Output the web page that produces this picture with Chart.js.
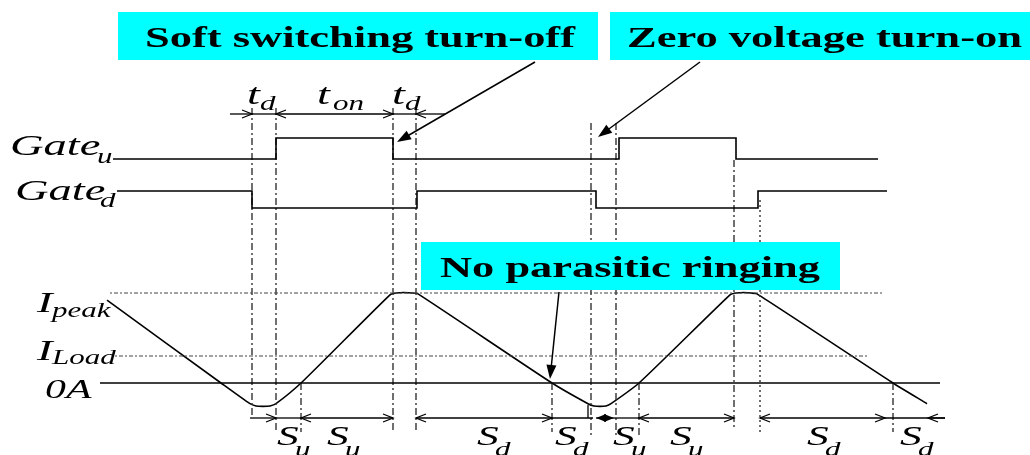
<!DOCTYPE html>
<html>
<head>
<meta charset="utf-8">
<script src="https://cdn.jsdelivr.net/npm/chart.js@4.4.1/dist/chart.umd.min.js"></script>
<style>
  html, body { margin: 0; background: #fff; }
  #wrap { width: 1030px; height: 455px; position: relative; }
</style>
</head>
<body>
<div id="wrap"><canvas id="timing"></canvas></div>
<script>
// --- switching instants and logic states of the two gate signals ---
const gateUEdges = [113, 276, 393, 619, 736, 878];
const gateUStates = [0, 1, 0, 1, 0, 0];
const gateDEdges = [117, 252, 417, 596, 758, 887];
const gateDStates = [1, 0, 1, 0, 1, 1];

// --- inductor current (A) ---
const currentTimes = [107, 221, 250, 256, 263, 270, 276, 301, 390, 396, 404, 412, 418, 552, 588, 594, 600, 606, 611, 639, 730, 736, 744, 751, 757, 893, 927];
const currentAmps = [9.2, 0, -2.3, -2.55, -2.6, -2.55, -2.3, 0, 9.8, 10.0, 10.05, 10.0, 9.9, 0, -2.3, -2.55, -2.6, -2.55, -2.3, 0, 9.8, 10.0, 10.05, 10.0, 9.9, 0, -2.3];

// reference levels: I_peak, I_Load, 0A
const refNames = ['peak', 'Load', '0A'];
const refAmps = [10, 3, 0];
const refStart = [110, 115, 100];
const refEnd = [882, 868, 940];

// dead-time / interval markers
const markerTimes = [252, 276, 393, 416, 301, 552, 591, 616, 639, 734, 760, 893];

// interval labels under the current trace
const intervalNames = ['u', 'u', 'd', 'd', 'u', 'u', 'd', 'd'];
const intervalStarts = [277, 327, 477, 555, 613, 670, 807, 900];

const callouts = ['Soft switching turn-off', 'Zero voltage turn-on', 'No parasitic ringing'];

// rows (y scale, top = 0) used for layout
const gateRows = { u: [159, 138], d: [208, 191] };
const markerTop = [108, 108, 108, 108, 383, 383, 123, 123, 383, 160, 200, 383];
const markerBottom = [418, 432, 432, 432, 432, 432, 437, 437, 437, 428, 432, 432];

const SERIF = '"Liberation Serif", "DejaVu Serif", serif';
const SX = 1.55;

function stepData(edges, states, rows) {
  return edges.map((t, i) => ({ x: t, y: rows[states[i]] }));
}

const datasets = [];
datasets.push({
  data: stepData(gateUEdges, gateUStates, gateRows.u),
  stepped: 'before', yAxisID: 'y', borderColor: '#000', borderWidth: 1.6
});
datasets.push({
  data: stepData(gateDEdges, gateDStates, gateRows.d),
  stepped: 'before', yAxisID: 'y', borderColor: '#000', borderWidth: 1.6
});
refAmps.forEach((a, i) => {
  datasets.push({
    data: [{ x: refStart[i], y: a }, { x: refEnd[i], y: a }],
    yAxisID: 'yI', borderColor: i < 2 ? '#444' : '#000',
    borderWidth: i < 2 ? 1 : 1.5,
    borderDash: i < 2 ? [2, 2, 4, 2] : []
  });
});
markerTimes.forEach((t, i) => {
  datasets.push({
    data: [{ x: t, y: markerTop[i] }, { x: t, y: markerBottom[i] }],
    yAxisID: 'y', borderColor: '#333', borderWidth: 1.4,
    borderDash: i === 10 ? [2, 3] : [7, 3, 2, 3]
  });
});
datasets.push({
  data: currentTimes.map((t, i) => ({ x: t, y: currentAmps[i] })),
  yAxisID: 'yI', borderColor: '#000', borderWidth: 1.6, tension: 0.2
});
datasets.forEach(d => { d.showLine = true; d.pointRadius = 0; d.fill = false; });

function chevron(ctx, x, y, dir, filled) {
  ctx.beginPath();
  ctx.moveTo(x - dir * 10, y - 4);
  ctx.lineTo(x, y);
  ctx.lineTo(x - dir * 10, y + 4);
  if (filled) { ctx.closePath(); ctx.fill(); } else ctx.stroke();
}

function pointer(ctx, x0, y0, x1, y1) {
  const ang = Math.atan2(y1 - y0, x1 - x0);
  ctx.beginPath();
  ctx.moveTo(x0, y0);
  ctx.lineTo(x1 - Math.cos(ang) * 8, y1 - Math.sin(ang) * 8);
  ctx.stroke();
  ctx.beginPath();
  ctx.moveTo(x1, y1);
  ctx.lineTo(x1 - 14 * Math.cos(ang) + 5 * Math.sin(ang), y1 - 14 * Math.sin(ang) - 5 * Math.cos(ang));
  ctx.lineTo(x1 - 14 * Math.cos(ang) - 5 * Math.sin(ang), y1 - 14 * Math.sin(ang) + 5 * Math.cos(ang));
  ctx.closePath();
  ctx.fill();
}

function label(ctx, str, x, y, size, style) {
  ctx.save();
  ctx.font = (style || 'italic') + ' ' + size + 'px ' + SERIF;
  ctx.translate(x, y);
  ctx.scale(SX, 1);
  ctx.fillText(str, 0, 0);
  ctx.restore();
}

const annotations = {
  id: 'annotations',
  afterDatasetsDraw(chart) {
    const ctx = chart.ctx;
    const X = v => chart.scales.x.getPixelForValue(v);
    const Y = v => chart.scales.y.getPixelForValue(v);
    ctx.save();
    ctx.fillStyle = '#000';
    ctx.strokeStyle = '#000';
    ctx.lineWidth = 1.3;

    // dimension lines: [row, from, to, head at from, head at to, filled]
    const dims = [
      [114, 230, 252, false, true], [114, 252, 276, false, false],
      [114, 276, 393, true, true], [114, 393, 416, false, false],
      [114, 416, 445, true, false],
      [418, 250, 276, false, true], [418, 276, 301, false, false],
      [418, 301, 393, true, true], [418, 416, 552, true, true],
      [418, 552, 593, false, false], [418, 596, 614, true, true, true],
      [418, 614, 639, false, false], [418, 639, 734, true, true],
      [418, 760, 885, true, true], [418, 885, 945, false, false],
      [418, 928, 945, true, false]
    ];
    dims.forEach(([row, a, b, ha, hb, filled]) => {
      const y = Y(row);
      ctx.beginPath();
      ctx.moveTo(X(a), y);
      ctx.lineTo(X(b), y);
      ctx.stroke();
      if (ha) chevron(ctx, X(a), y, -1, filled);
      if (hb) chevron(ctx, X(b), y, 1, filled);
    });
    // short tick under the second current valley
    ctx.beginPath();
    ctx.moveTo(X(588), Y(405));
    ctx.lineTo(X(588), Y(418));
    ctx.stroke();

    // callout boxes
    const boxes = [
      [118, 598, 12, 60, 145, 430, 47],
      [610, 1030, 12, 60, 627, 395, 47],
      [421, 840, 242, 290, 440, 380, 277]
    ];
    boxes.forEach(([x0, x1, y0, y1, tx, tw, ty], i) => {
      ctx.fillStyle = '#00ffff';
      ctx.fillRect(X(x0), Y(y0), X(x1) - X(x0), Y(y1) - Y(y0));
      ctx.fillStyle = '#000';
      ctx.font = 'bold 29px ' + SERIF;
      const w = ctx.measureText(callouts[i]).width;
      ctx.save();
      ctx.translate(X(tx), Y(ty));
      ctx.scale(tw / w, 1);
      ctx.fillText(callouts[i], 0, 0);
      ctx.restore();
    });

    // callout pointers
    ctx.lineWidth = 1.5;
    pointer(ctx, X(535), Y(62), X(397), Y(142));
    pointer(ctx, X(700), Y(62), X(598), Y(137));
    pointer(ctx, X(559), Y(292), X(550), Y(379));

    // timing labels
    label(ctx, 't', X(247), Y(104), 30);
    label(ctx, 'd', X(260), Y(110), 20);
    label(ctx, 't', X(317), Y(104), 30);
    label(ctx, 'on', X(333), Y(110), 20);
    label(ctx, 't', X(392), Y(104), 30);
    label(ctx, 'd', X(405), Y(110), 20);

    label(ctx, 'Gate', X(10), Y(155), 30);
    label(ctx, 'u', X(97), Y(163), 20);
    label(ctx, 'Gate', X(15), Y(200), 30);
    label(ctx, 'd', X(100), Y(207), 20);

    label(ctx, 'I', X(37), Y(312), 30);
    label(ctx, refNames[0], X(52), Y(317), 20);
    label(ctx, 'I', X(37), Y(360), 30);
    label(ctx, refNames[1], X(52), Y(364), 20);
    label(ctx, refNames[2], X(45), Y(398), 27);

    intervalNames.forEach((s, i) => {
      label(ctx, 'S', X(intervalStarts[i]), Y(445), 28);
      label(ctx, s, X(intervalStarts[i] + 18), Y(456), 20);
    });
    ctx.restore();
  }
};

new Chart(document.getElementById('timing'), {
  type: 'scatter',
  data: { datasets },
  options: {
    responsive: true,
    maintainAspectRatio: false,
    animation: false,
    layout: { padding: 0 },
    plugins: { legend: { display: false }, tooltip: { enabled: false } },
    scales: {
      x: { type: 'linear', display: false, min: 0, max: 1030 },
      y: { type: 'linear', display: false, reverse: true, min: 0, max: 455 },
      yI: { type: 'linear', display: false, min: -8, max: 383 / 9 }
    }
  },
  plugins: [annotations]
});
</script>
</body>
</html>
